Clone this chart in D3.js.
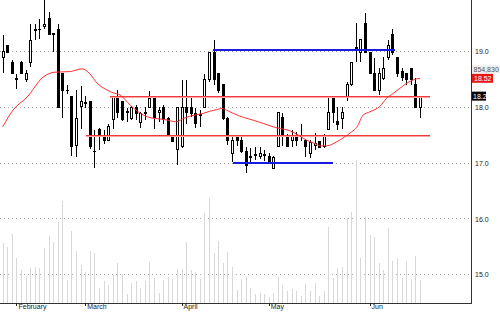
<!DOCTYPE html>
<html><head><meta charset="utf-8">
<script src="https://cdn.jsdelivr.net/npm/d3@7/dist/d3.min.js"></script>
<style>html,body{margin:0;padding:0;background:#fff;overflow:hidden}svg{display:block}</style>
</head><body><svg id="c" width="500" height="312"></svg>
<script>
// ---- data ----
const opens  = [18.90,19.10,18.81,18.52,18.81,18.50,18.80,19.38,19.40,19.45,19.60,19.33,19.40,18.60,18.31,18.20,17.32,18.02,18.08,18.10,17.21,17.60,17.50,17.41,17.79,18.20,18.10,17.92,17.80,18.00,17.72,17.88,18.00,18.20,17.90,18.00,17.80,17.50,17.25,17.29,18.00,18.00,17.89,17.85,18.00,18.49,18.99,18.61,18.40,17.80,17.18,17.45,17.41,17.20,17.10,17.14,17.12,17.14,17.11,16.91,17.29,17.81,17.50,17.40,17.49,17.50,17.41,17.18,17.31,17.38,17.29,17.61,18.20,17.75,17.80,18.19,18.40,19.05,18.99,19.51,18.99,18.61,18.31,18.51,18.90,19.30,18.90,18.65,18.60,18.70,18.40,18.00];
const highs  = [19.30,19.12,18.85,18.60,18.83,18.67,19.49,19.49,19.58,19.92,19.70,19.33,19.49,18.61,18.40,18.20,18.31,18.38,18.20,18.10,17.59,17.63,17.60,17.70,18.21,18.31,18.12,17.99,18.02,18.04,17.91,18.00,18.30,18.20,18.00,18.05,17.82,17.50,18.00,18.49,18.49,18.18,17.99,17.95,18.60,19.00,19.21,18.62,18.41,17.82,17.50,17.50,17.50,17.29,17.27,17.29,17.29,17.23,17.18,17.12,17.92,17.90,17.52,17.59,17.55,17.70,17.41,17.41,17.54,17.40,17.52,18.20,18.21,18.00,18.00,18.45,18.80,19.51,19.23,19.69,19.00,18.88,18.70,18.90,19.21,19.40,18.90,18.70,18.60,18.71,18.52,18.20];
const lows   = [18.61,18.98,18.60,18.33,18.59,18.45,18.72,19.21,19.22,19.40,19.29,18.99,18.00,17.81,18.24,17.12,17.11,17.61,17.98,17.25,16.91,17.23,17.35,17.40,17.61,17.81,17.76,17.74,17.78,17.78,17.63,17.77,17.98,17.61,17.73,17.70,17.49,17.38,16.97,17.27,17.70,17.82,17.63,17.65,17.98,18.45,18.40,18.25,17.78,17.33,17.02,17.30,17.18,16.82,17.02,17.05,17.08,17.04,17.01,16.90,17.28,17.30,17.28,17.28,17.30,17.40,17.11,17.10,17.23,17.27,17.27,17.60,17.72,17.60,17.62,18.12,18.38,18.81,18.81,18.97,18.60,18.31,18.22,18.49,18.85,18.94,18.55,18.48,18.40,18.40,18.00,17.80];
const closes = [19.00,18.99,18.60,18.50,18.60,18.60,19.19,19.40,19.39,19.48,19.31,19.30,18.00,18.31,18.30,17.29,17.80,18.11,18.06,17.29,17.20,17.51,17.41,17.65,18.20,17.90,17.79,17.90,18.00,17.89,17.89,17.90,18.15,17.81,17.95,17.79,17.50,17.39,17.99,18.00,17.90,17.89,17.71,17.87,18.49,18.99,18.50,18.31,17.80,17.40,17.41,17.40,17.20,16.96,17.11,17.15,17.18,17.15,17.02,17.10,17.90,17.50,17.29,17.47,17.41,17.47,17.29,17.37,17.36,17.28,17.50,17.90,17.90,17.70,17.90,18.40,18.80,19.08,19.21,18.99,18.61,18.31,18.61,18.70,19.11,18.99,18.61,18.53,18.50,18.50,18.00,18.20];
// volume in millions of shares
const volumes = [2.23,2.09,2.56,1.66,1.22,1.00,1.31,1.34,1.31,2.03,2.48,2.27,3.01,3.79,0.85,2.68,1.93,1.41,1.14,1.94,1.84,0.57,0.81,0.67,1.04,1.49,1.07,0.33,0.75,0.81,0.57,0.81,1.51,0.91,0.36,0.87,0.98,0.89,1.26,1.26,2.27,1.22,1.16,0.89,3.32,3.88,1.84,2.31,1.49,1.88,1.32,0.48,0.89,0.97,0.57,0.33,0.38,0.33,0.23,0.36,0.97,0.67,0.46,0.52,0.46,0.26,0.69,0.46,0.75,0.26,0.46,2.80,0.94,1.28,1.34,3.14,3.38,5.30,1.68,3.20,2.52,2.43,1.49,1.22,2.79,1.56,1.66,0.94,1.57,0.89,1.74,0.855];
// moving average, read at these bar positions
const maIdx = [0,2.25,5.3,8.8,11.4,14.7,17.3,19.0,20.6,21.9,24.1,25.6,27.8,29.9,31.5,33.2,35.4,37.9,39.4,40.8,43.7,45.2,46.7,47.8,48.8,50.3,52.5,54.6,56.8,59.0,60.5,62.6,64.5,66.3,68.1,69.2,70.7,72.8,74.6,76.1,77.2,78.6,80.1,82.3,83.7,85.2,86.6,88.1,89.5,91];
const maVal = [17.65,17.95,18.18,18.54,18.63,18.64,18.69,18.60,18.43,18.35,18.26,18.22,18.04,17.90,17.83,17.80,17.78,17.74,17.80,17.84,17.89,17.93,17.96,17.98,17.95,17.89,17.82,17.77,17.71,17.65,17.62,17.58,17.50,17.41,17.35,17.31,17.31,17.38,17.47,17.56,17.64,17.86,17.92,18.02,18.16,18.25,18.34,18.43,18.49,18.52];
const monthLabels = ["February","March","April","May","Jun"];
const monthIdx = [3,18,39,58,80];
const priceTicks = [19,18,17,16,15];
// horizontal trend levels (price, from bar, to bar)
const redLevels = [18.2,17.5];
const redFrom = [23.4,18.2];
const redTo = [93.2,93.2];
const blueLevels = [19.02,17.0];
const blueFrom = [45.9,50.2];
const blueTo = [85.5,72.0];
const lastVolume = 854830;
const lastMA = 18.52;
const lastClose = 18.2;

// ---- drawing ----
const svg = d3.select("#c");
const plotRight = 471, plotBottom = 303;
const n = opens.length;
const x = d3.scaleLinear().domain([0, n-1]).range([2.7, 420]);
const y = d3.scaleLinear().domain([15, 19]).range([274.7, 51.5]);
const yv = d3.scaleLinear().domain([0, 5.3]).range([plotBottom, 160]);
const px = i => Math.round(x(i));
const FONT = "'Liberation Sans', Arial, sans-serif";

// grid
svg.append("g").attr("shape-rendering","crispEdges").selectAll("line").data(priceTicks).join("line")
  .attr("x1", 0).attr("x2", plotRight)
  .attr("y1", d => Math.floor(y(d)) + 0.5).attr("y2", d => Math.floor(y(d)) + 0.5)
  .attr("stroke", "#a6a6a6").attr("stroke-dasharray", "1,3");

// volume
svg.append("g").attr("shape-rendering","crispEdges").selectAll("line").data(d3.range(n)).join("line")
  .attr("x1", i => px(i) + 0.5).attr("x2", i => px(i) + 0.5)
  .attr("y1", yv(0)).attr("y2", i => yv(volumes[i]))
  .attr("stroke", "#d8d8d8");

// candles
const cg = svg.append("g").attr("shape-rendering","crispEdges");
cg.selectAll("line").data(d3.range(n)).join("line")
  .attr("x1", i => px(i) + 0.5).attr("x2", i => px(i) + 0.5)
  .attr("y1", i => y(highs[i])).attr("y2", i => y(lows[i]))
  .attr("stroke", "#000");
cg.selectAll("rect").data(d3.range(n)).join("rect")
  .attr("x", i => px(i) - 0.5).attr("width", 2)
  .attr("y", i => y(Math.max(opens[i], closes[i])))
  .attr("height", i => Math.max(0.5, Math.abs(y(opens[i]) - y(closes[i]))))
  .attr("fill", i => closes[i] >= opens[i] ? "#fff" : "#000")
  .attr("stroke", "#000");

// red levels (two-tone)
const rg = svg.append("g").attr("shape-rendering","crispEdges");
redLevels.forEach((v, k) => {
  const yy = Math.floor(y(v)) + 0.5;
  rg.append("line").attr("x1", x(redFrom[k])).attr("x2", x(redTo[k])).attr("y1", yy).attr("y2", yy).attr("stroke", "#f23a3a");
  rg.append("line").attr("x1", x(redFrom[k])).attr("x2", x(redTo[k])).attr("y1", yy+1).attr("y2", yy+1).attr("stroke", "#f7a3a3");
});
// blue levels
blueLevels.forEach((v, k) => {
  const yy = Math.floor(y(v));
  rg.append("line").attr("x1", x(blueFrom[k])).attr("x2", x(blueTo[k])).attr("y1", yy).attr("y2", yy).attr("stroke", "#1a1ae0").attr("stroke-width", 2);
});

// moving average
svg.append("path").datum(d3.range(maIdx.length))
  .attr("d", d3.line().x(k => x(maIdx[k])).y(k => y(maVal[k])).curve(d3.curveMonotoneX))
  .attr("fill", "none").attr("stroke", "#ff3030").attr("stroke-width", 1);

// frame
const fg = svg.append("g").attr("shape-rendering","crispEdges");
fg.append("line").attr("x1", plotRight+0.5).attr("x2", plotRight+0.5).attr("y1", 0).attr("y2", plotBottom+1).attr("stroke", "#333");
fg.append("line").attr("x1", 0).attr("x2", plotRight+1).attr("y1", plotBottom+0.5).attr("y2", plotBottom+0.5).attr("stroke", "#333");

// right axis
const ya = svg.append("g").attr("transform", `translate(${plotRight},0)`)
  .call(d3.axisRight(y).tickValues(priceTicks).tickFormat(d3.format(".1f")).tickSize(0).tickPadding(4));
ya.select(".domain").remove();
ya.selectAll("text").attr("font-family", FONT).attr("font-size", 7).attr("fill", "#222");

// bottom axis
const xa = svg.append("g").attr("transform", `translate(0,${plotBottom})`)
  .call(d3.axisBottom(x).tickValues(monthIdx).tickFormat((d, i) => monthLabels[i]).tickSize(3));
xa.select(".domain").remove();
xa.selectAll("line").attr("stroke", "#222").attr("shape-rendering","crispEdges");
xa.selectAll("text").attr("text-anchor", "start").attr("x", 1.5).attr("y", 1.5)
  .attr("font-family", FONT).attr("font-size", 7).attr("fill", "#222");

// right side value labels
const lg = svg.append("g").attr("font-family", FONT).attr("font-size", 7);
const maY = y(lastMA), clY = y(lastClose);
lg.append("rect").attr("x", plotRight+1).attr("y", maY-4.5).attr("width", 21).attr("height", 9).attr("fill", "#e41616");
lg.append("text").attr("x", plotRight+3).attr("y", maY).attr("dy", "0.35em").attr("fill", "#fff").text(d3.format(".2f")(lastMA));
lg.append("rect").attr("x", plotRight+1).attr("y", clY-4.5).attr("width", 14).attr("height", 9).attr("fill", "#000");
lg.append("text").attr("x", plotRight+2).attr("y", clY).attr("dy", "0.35em").attr("fill", "#fff").text(d3.format(".1f")(lastClose));
lg.append("rect").attr("x", plotRight+1).attr("y", maY-13).attr("width", 28).attr("height", 8).attr("fill", "#eeeeee");
lg.append("text").attr("x", plotRight+2.5).attr("y", maY-9).attr("dy", "0.35em").attr("fill", "#555").text(d3.format(",")(lastVolume));
</script>
</body></html>
